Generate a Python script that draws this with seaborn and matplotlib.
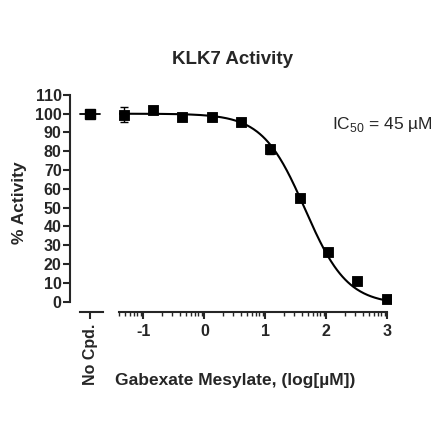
import numpy as np
import matplotlib
matplotlib.use("Agg")
import matplotlib.pyplot as plt
import seaborn as sns
import pandas as pd

sns.set_style("ticks")
plt.rcParams['font.family'] = ['Liberation Sans', 'DejaVu Sans']
plt.rcParams['mathtext.fontset'] = 'custom'
plt.rcParams['mathtext.rm'] = 'Liberation Sans'

log_conc = [-1.32, -0.84, -0.36, 0.12, 0.6, 1.08, 1.56, 2.03, 2.51, 2.99]
activity = [99.5, 102, 98, 98, 95.5, 81, 55, 26.5, 11, 1.5]
errors = [4, 0.8, 1, 2, 1, 2.5, 1, 1, 1, 0.5]
nocpd_val = [100]
nocpd_err = [2]
top, bottom, logIC50, hill = 100.0, -1.5, 1.65, 1.25

df = pd.DataFrame({"x": log_conc, "y": activity})
fig = plt.figure(figsize=(4.4, 4.4), dpi=100)
ylo, yhi = -5.5, 111
ax0 = fig.add_axes([70/440, 1-312/440, 33/440, 219/440])
ax = fig.add_axes([119/440, 1-312/440, 272/440, 219/440])

ax0.errorbar([0], nocpd_val, yerr=nocpd_err, fmt='s', color='black', ms=7, capsize=3)
ax0.plot([-0.5, 0.5], [nocpd_val[0]]*2, color='black', lw=1.3)
ax0.set_xlim(-1, 0.65); ax0.set_ylim(ylo, yhi)
ax0.set_xticks([0]); ax0.set_xticklabels(["No Cpd."], rotation=90, fontweight='bold', fontsize=11.5)
ax0.set_yticks(range(0, 111, 10))
for lab in ax0.get_yticklabels():
    lab.set_fontweight('bold')
ax0.tick_params(axis='y', labelsize=11.5, length=5, width=1.5, pad=1)
ax0.tick_params(axis='x', length=5, width=1.5)
for s in ['top', 'right']:
    ax0.spines[s].set_visible(False)
ax0.spines['left'].set_bounds(0, 110)
ax0.spines['bottom'].set_bounds(-0.5, 0.65)
ax0.spines['left'].set_linewidth(1.5); ax0.spines['bottom'].set_linewidth(1.5)
ax0.set_ylabel("% Activity", fontweight='bold', fontsize=12.5, labelpad=6)

xs = np.linspace(-1.4, 3.0, 300)
ys = bottom + (top - bottom) / (1 + 10 ** ((xs - logIC50) * hill))
ax.plot(xs, ys, color='black', lw=1.5)
ax.errorbar(log_conc, activity, yerr=errors, fmt='none', ecolor='black', capsize=3, lw=1)
sns.scatterplot(data=df, x="x", y="y", marker='s', color='black', s=60, ax=ax, zorder=5, edgecolor='black')
ax.set_xlim(-1.4, 3.06); ax.set_ylim(ylo, yhi)
ax.set_xticks([-1, 0, 1, 2, 3])
ax.set_xticklabels(["-1", "0", "1", "2", "3"], fontweight='bold', fontsize=11.5)
minors = [d + np.log10(k) for d in range(-2, 3) for k in range(2, 10) if -1.4 <= d + np.log10(k) <= 3]
ax.set_xticks(minors, minor=True)
ax.tick_params(axis='x', which='major', length=5, width=1.5)
ax.tick_params(axis='x', which='minor', length=3, width=1)
ax.set_yticks([])
for s in ['top', 'right', 'left']:
    ax.spines[s].set_visible(False)
ax.spines['bottom'].set_bounds(-1.4, 3.0)
ax.spines['bottom'].set_linewidth(1.5)
ax.set_xlabel(""); ax.set_ylabel("")
ax.text(2.1, 92, "IC$_{50}$ = 45 µM", fontsize=12.5)

fig.text(235/440, 1-380/440, "Gabexate Mesylate, (log[µM])", ha='center', va='center', fontweight='bold', fontsize=12.5)
fig.text(232/440, 1-60/440, "KLK7 Activity", ha='center', va='center', fontweight='bold', fontsize=13.5)
fig.savefig("out.png", dpi=100)
